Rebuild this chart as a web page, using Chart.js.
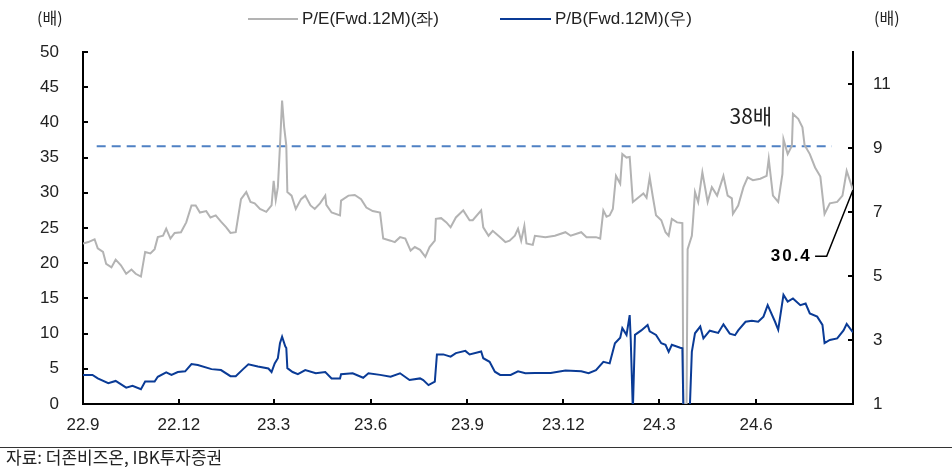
<!DOCTYPE html>
<html>
<head>
<meta charset="utf-8">
<script src="https://cdn.jsdelivr.net/npm/chart.js@4/dist/chart.umd.min.js"></script>
<style>
  body { margin: 0; background: #fff; }
  #wrap { width: 952px; height: 467px; position: relative; }
</style>
</head>
<body>
<div id="wrap"><canvas id="chart"></canvas></div>
<script>
// days since 2022-09-01
const tickDays = [0, 91, 181, 273, 365, 456, 547, 639, 731];
const tickLabels = ['22.9', '22.12', '23.3', '23.6', '23.9', '23.12', '24.3', '24.6', ''];
const leftTicks = [0, 5, 10, 15, 20, 25, 30, 35, 40, 45, 50];
const rightTicks = [1, 3, 5, 7, 9, 11];

// P/E (Fwd.12M), left axis
const peDays = [0, 5, 11, 14, 19, 22, 27, 31, 36, 41, 46, 50, 55, 59, 64, 68, 71, 76, 79, 83, 87, 93, 98,
  103, 107, 111, 117, 121, 126, 131, 136, 140, 145, 150, 155, 159, 163, 168, 174, 179, 181, 183, 185, 187,
  189, 191, 193, 194, 198, 202, 207, 211, 216, 220, 225, 230, 231, 236, 244, 245, 252, 258, 264, 269, 275,
  282, 285, 292, 296, 301, 306, 311, 315, 320, 325, 329, 334, 335, 340, 345, 349, 354, 361, 367, 370, 378,
  380, 385, 389, 396, 401, 405, 410, 413, 416, 419, 421, 427, 429, 439, 448, 458, 463, 473, 478, 487, 491,
  494, 497, 500, 503, 506, 510, 512, 516, 519, 522, 527, 532, 535, 538, 541, 544, 549, 553, 556, 559, 564,
  569, 570, 573, 574, 578, 579, 581, 584, 588, 593, 597, 602, 608, 612, 616, 617, 622, 627, 631, 636, 643,
  649, 651, 655, 660, 664, 665, 669, 673, 674, 679, 683, 685, 690, 695, 700, 704, 709, 716, 721, 725, 731];
const peValues = [22.8, 23.0, 23.4, 22.1, 21.6, 19.9, 19.4, 20.5, 19.7, 18.5, 19.1, 18.5, 18.1, 21.6, 21.4,
  22.0, 23.7, 23.9, 24.9, 23.5, 24.3, 24.4, 25.8, 28.2, 28.2, 27.2, 27.4, 26.5, 26.8, 25.9, 25.1, 24.3, 24.4,
  29.1, 30.1, 28.7, 28.5, 27.7, 27.3, 28.2, 31.7, 29.0, 30.8, 36.7, 43.1, 39.3, 36.7, 30.1, 29.6, 27.7, 29.1,
  29.6, 28.2, 27.7, 28.5, 29.6, 28.3, 27.2, 26.8, 28.9, 29.6, 29.7, 29.1, 27.9, 27.4, 27.2, 23.5, 23.2, 23.0,
  23.7, 23.5, 21.8, 22.3, 21.9, 20.9, 22.3, 23.2, 26.3, 26.4, 25.8, 25.1, 26.5, 27.5, 26.1, 26.1, 27.5, 25.1,
  23.9, 24.6, 23.7, 23.0, 23.2, 23.9, 24.9, 23.2, 25.3, 22.8, 22.6, 23.9, 23.7, 23.9, 24.4, 23.9, 24.4, 23.7,
  23.7, 23.5, 27.5, 26.6, 26.8, 27.7, 32.4, 31.3, 35.5, 35.0, 35.1, 28.7, 29.3, 29.9, 29.3, 32.2, 29.4, 26.8,
  26.1, 24.4, 23.9, 26.3, 25.8, 25.7, 0, 0, 22.0, 23.9, 25.8, 30.1, 28.7, 32.9, 28.7, 30.8, 29.6, 32.4, 29.6,
  29.2, 27.0, 28.2, 30.8, 32.2, 31.8, 32.0, 32.4, 34.8, 29.6, 28.7, 32.7, 37.6, 35.5, 36.7, 41.2, 40.5, 39.3,
  36.8, 35.5, 33.6, 32.3, 27.0, 28.5, 28.7, 29.6, 33.1, 30.4];

// P/B (Fwd.12M), right axis
const pbDays = [0, 9, 14, 24, 31, 41, 47, 55, 59, 68, 71, 79, 84, 90, 97, 103, 109, 122, 131, 140, 145, 152,
  157, 166, 176, 179, 182, 185, 187, 189, 192, 193, 194, 199, 204, 211, 221, 230, 236, 244, 245, 256, 266,
  271, 282, 292, 301, 310, 320, 323, 328, 334, 336, 342, 349, 354, 363, 367, 378, 380, 386, 391, 396, 406,
  413, 420, 429, 444, 458, 473, 480, 487, 494, 500, 505, 510, 512, 516, 519, 520, 522, 524, 530, 536, 538,
  544, 549, 553, 556, 559, 567, 569, 570, 576, 578, 581, 586, 589, 595, 603, 608, 614, 619, 622, 629, 635,
  641, 646, 650, 657, 660, 665, 669, 674, 681, 686, 690, 697, 702, 704, 709, 716, 722, 725, 731];
const pbValues = [1.91, 1.91, 1.80, 1.65, 1.72, 1.51, 1.57, 1.46, 1.70, 1.70, 1.85, 1.99, 1.91, 2.00, 2.02,
  2.25, 2.22, 2.09, 2.06, 1.87, 1.87, 2.09, 2.24, 2.17, 2.11, 2.00, 2.27, 2.43, 2.90, 3.10, 2.80, 2.75, 2.12,
  2.00, 1.93, 2.06, 1.96, 2.00, 1.80, 1.80, 1.93, 1.96, 1.82, 1.96, 1.91, 1.85, 1.96, 1.75, 1.80, 1.75, 1.59,
  1.70, 2.55, 2.55, 2.48, 2.59, 2.66, 2.55, 2.64, 2.43, 2.32, 2.01, 1.91, 1.91, 2.02, 1.96, 1.97, 1.97, 2.05,
  2.02, 1.96, 2.06, 2.32, 2.27, 2.90, 3.07, 3.37, 3.16, 3.78, 3.00, 0.8, 3.16, 3.30, 3.47, 3.27, 3.16, 2.90,
  2.85, 2.63, 2.85, 2.76, 2.74, 0.8, 0.8, 2.63, 3.21, 3.42, 3.05, 3.29, 3.22, 3.49, 3.20, 3.15, 3.30, 3.57,
  3.60, 3.57, 3.73, 4.09, 3.57, 3.32, 4.41, 4.20, 4.30, 4.09, 4.14, 3.83, 3.73, 3.47, 2.90, 3.00, 3.05, 3.30,
  3.50, 3.24];

const avgPE = 36.6;
const avgRange = [13, 711];
const lastPE = 30.4;

const FONT = "'Liberation Sans Narrow', 'Liberation Sans', Arial, sans-serif";
const KFONT = "'Noto Sans CJK KR', 'Liberation Sans', sans-serif";

const zip = (xs, ys) => xs.map((x, i) => ({ x: x, y: ys[i] }));

const extras = {
  id: 'extras',
  afterDraw(chart) {
    const ctx = chart.ctx;
    const { left, right, top, bottom } = chart.chartArea;
    const x = chart.scales.x, y = chart.scales.y, y1 = chart.scales.y1;
    ctx.save();
    // inward tick marks
    ctx.strokeStyle = '#000';
    ctx.lineWidth = 2;
    ctx.beginPath();
    leftTicks.forEach(v => {
      const p = Math.round(y.getPixelForValue(v));
      ctx.moveTo(left, p); ctx.lineTo(left + 5, p);
    });
    rightTicks.forEach(v => {
      const p = Math.round(y1.getPixelForValue(v));
      ctx.moveTo(right, p); ctx.lineTo(right - 5, p);
    });
    tickDays.forEach(v => {
      const p = Math.round(x.getPixelForValue(v));
      ctx.moveTo(p, bottom); ctx.lineTo(p, bottom - 5);
    });
    ctx.stroke();

    // unit labels
    ctx.fillStyle = '#222';
    ctx.font = '16px ' + KFONT;
    ctx.textBaseline = 'middle';
    ctx.textAlign = 'left';
    ctx.fillText('(배)', 37, 18);
    ctx.fillText('(배)', 874, 18);

    // legend
    ctx.lineWidth = 2;
    ctx.strokeStyle = '#b3b3b3';
    ctx.beginPath(); ctx.moveTo(248, 19); ctx.lineTo(298, 19); ctx.stroke();
    ctx.strokeStyle = '#0a3b96';
    ctx.beginPath(); ctx.moveTo(500, 19); ctx.lineTo(551, 19); ctx.stroke();
    ctx.font = '17px ' + FONT;
    ctx.fillText('P/E(Fwd.12M)(좌)', 302, 19);
    ctx.fillText('P/B(Fwd.12M)(우)', 555, 19);

    // annotations
    ctx.font = '21px ' + KFONT;
    ctx.textAlign = 'center';
    ctx.fillText('38배', x.getPixelForValue(634), y.getPixelForValue(40.9));
    ctx.font = 'bold 17px ' + FONT;
    ctx.letterSpacing = '2px';
    ctx.textAlign = 'right';
    ctx.fillStyle = '#000';
    ctx.fillText('30.4', x.getPixelForValue(690) + 2, y.getPixelForValue(21.0));
    ctx.letterSpacing = '0px';

    // source footer
    ctx.strokeStyle = '#333';
    ctx.lineWidth = 1;
    ctx.beginPath(); ctx.moveTo(0, 447.5); ctx.lineTo(952, 447.5); ctx.stroke();
    ctx.fillStyle = '#222';
    ctx.font = '17px ' + KFONT;
    ctx.textAlign = 'left';
    ctx.fillText('자료: 더존비즈온, IBK투자증권', 6, 458);
    ctx.restore();
  }
};

new Chart(document.getElementById('chart'), {
  type: 'line',
  data: {
    datasets: [
      {
        label: 'P/E(Fwd.12M)(좌)',
        data: zip(peDays, peValues),
        yAxisID: 'y',
        borderColor: '#b3b3b3',
        borderWidth: 2,
        pointRadius: 0,
        order: 2
      },
      {
        label: 'P/B(Fwd.12M)(우)',
        data: zip(pbDays, pbValues),
        yAxisID: 'y1',
        borderColor: '#0a3b96',
        borderWidth: 2,
        pointRadius: 0,
        order: 1
      },
      {
        label: 'avg',
        data: [{ x: avgRange[0], y: avgPE }, { x: avgRange[1], y: avgPE }],
        yAxisID: 'y',
        borderColor: '#4f81c4',
        borderWidth: 2,
        borderDash: [9, 6],
        pointRadius: 0,
        order: 3
      },
      {
        label: 'leader',
        data: [{ x: 731, y: lastPE }, { x: 706, y: 21.0 }, { x: 695, y: 21.0 }],
        yAxisID: 'y',
        borderColor: '#000',
        borderWidth: 1.5,
        pointRadius: 0,
        order: 0
      }
    ]
  },
  options: {
    responsive: true,
    maintainAspectRatio: false,
    animation: false,
    layout: { padding: { top: 52, left: 0, right: 0, bottom: 0 } },
    plugins: { legend: { display: false }, tooltip: { enabled: false } },
    scales: {
      x: {
        type: 'linear',
        min: 0,
        max: 731,
        afterBuildTicks: s => { s.ticks = tickDays.map(v => ({ value: v })); },
        afterFit: s => { s.height = 63; },
        grid: { drawOnChartArea: false, drawTicks: false },
        border: { display: true, color: '#000', width: 2 },
        ticks: {
          padding: 11,
          maxRotation: 0,
          autoSkip: false,
          color: '#222',
          font: { family: FONT, size: 17 },
          callback: (v) => tickLabels[tickDays.indexOf(v)]
        }
      },
      y: {
        position: 'left',
        min: 0,
        max: 50,
        afterBuildTicks: s => { s.ticks = leftTicks.map(v => ({ value: v })); },
        afterFit: s => { s.width = 83; },
        grid: { drawOnChartArea: false, drawTicks: false },
        border: { display: true, color: '#000', width: 2 },
        ticks: { padding: 24, color: '#222', font: { family: FONT, size: 17 } }
      },
      y1: {
        position: 'right',
        min: 1,
        max: 12,
        afterBuildTicks: s => { s.ticks = rightTicks.map(v => ({ value: v })); },
        afterFit: s => { s.width = 99; },
        grid: { drawOnChartArea: false, drawTicks: false },
        border: { display: true, color: '#000', width: 2 },
        ticks: { padding: 20, color: '#222', font: { family: FONT, size: 17 } }
      }
    }
  },
  plugins: [extras]
});
</script>
</body>
</html>
